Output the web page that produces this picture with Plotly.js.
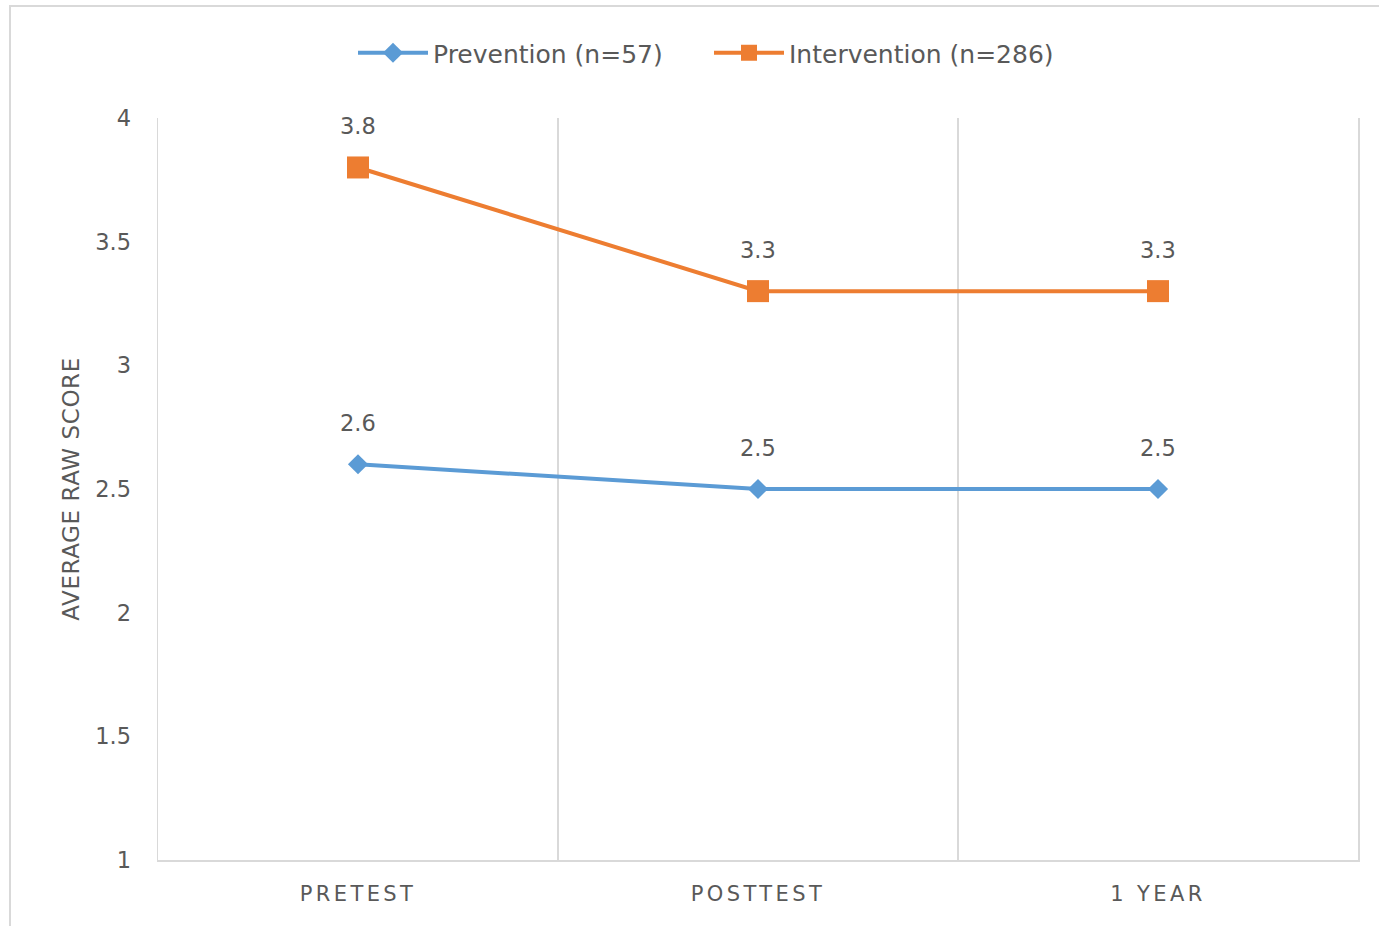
<!DOCTYPE html>
<html>
<head>
<meta charset="utf-8">
<script src="https://cdn.plot.ly/plotly-3.0.1.min.js"></script>
<style>
  html, body { margin: 0; padding: 0; background: #fff; overflow: hidden; }
  #chart { position: absolute; left: 0; top: 0; width: 1379px; height: 926px; }
  #frame { position: absolute; left: 9px; top: 5px; width: 1400px; height: 960px;
           border: 2px solid #d9d9d9; pointer-events: none; box-sizing: border-box; }
  .xtick text { letter-spacing: 3.4px; }
  .ytitle { letter-spacing: 0.6px; }
</style>
</head>
<body>
<div id="chart"></div>
<div id="frame"></div>
<script>
const categories = ["PRETEST", "POSTTEST", "1 YEAR"];
const seriesNames = ["Prevention (n=57)", "Intervention (n=286)"];
const prevention = [2.6, 2.5, 2.5];
const intervention = [3.8, 3.3, 3.3];
const yTicks = [1, 1.5, 2, 2.5, 3, 3.5, 4];

const FONT = "'DejaVu Sans', sans-serif";
const GRAY = "#595959";
const BLUE = "#5B9BD5";
const ORANGE = "#ED7D31";
const GRID = "#d9d9d9";

const traces = [
  {
    x: categories, y: prevention, name: seriesNames[0], type: "scatter", mode: "lines+markers",
    line: { color: BLUE, width: 4 },
    marker: { symbol: "diamond", size: 15.5, color: BLUE }
  },
  {
    x: categories, y: intervention, name: seriesNames[1], type: "scatter", mode: "lines+markers",
    line: { color: ORANGE, width: 4 },
    marker: { symbol: "square", size: 22, color: ORANGE }
  }
];

const annotations = [];
[prevention, intervention].forEach(function (vals) {
  vals.forEach(function (v, i) {
    annotations.push({
      x: categories[i], y: v, xref: "x", yref: "y", text: v.toFixed(1),
      showarrow: false, yshift: 41, font: { family: FONT, size: 22.5, color: GRAY }
    });
  });
});

const layout = {
  width: 1379, height: 926,
  margin: { l: 158, r: 21, t: 118, b: 66 },
  paper_bgcolor: "#ffffff", plot_bgcolor: "#ffffff",
  font: { family: FONT, color: GRAY },
  showlegend: true,
  legend: {
    orientation: "h", x: 0.1625, xanchor: "left", y: 1.0876, yanchor: "middle",
    font: { family: FONT, size: 25, color: GRAY }, itemwidth: 70,
    entrywidth: 271, entrywidthmode: "pixels"
  },
  xaxis: {
    type: "category", tickson: "boundaries", showgrid: true, gridcolor: GRID, gridwidth: 1.5,
    showline: true, linecolor: GRID, linewidth: 1.5, ticks: "", zeroline: false,
    tickfont: { family: FONT, size: 21, color: GRAY }, ticklabelstandoff: 14,
    range: [-0.5, 2.5], fixedrange: true
  },
  yaxis: {
    range: [1, 4], tickvals: yTicks, ticktext: yTicks.map(String), showgrid: false, zeroline: false,
    showline: true, mirror: true, linecolor: GRID, linewidth: 1.5,
    ticks: "", tickfont: { family: FONT, size: 22.5, color: GRAY },
    ticklabelstandoff: 21,
    title: { text: "AVERAGE RAW SCORE", font: { family: FONT, size: 23, color: GRAY }, standoff: 9 },
    fixedrange: true
  },
  annotations: annotations
};

Plotly.newPlot("chart", traces, layout, { displayModeBar: false, staticPlot: true });
</script>
</body>
</html>
